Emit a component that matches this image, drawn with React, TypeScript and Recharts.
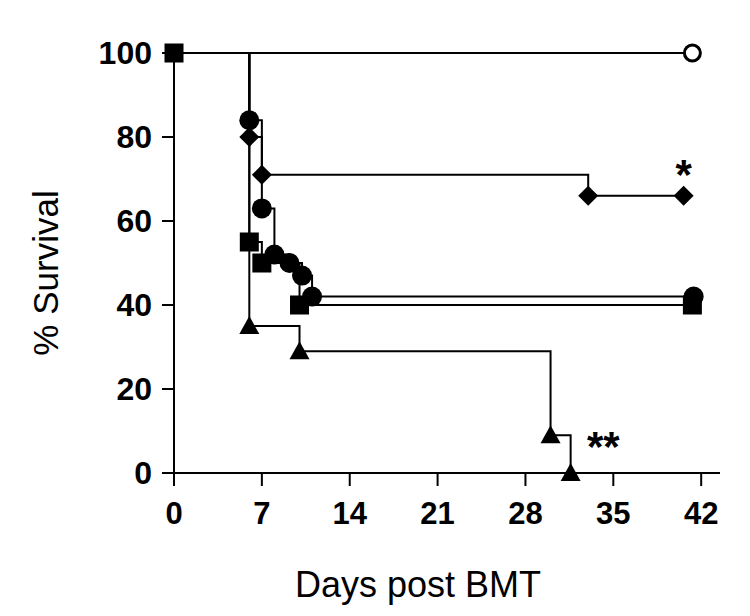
import { LineChart, Line, XAxis, YAxis, ReferenceDot } from 'recharts';

// Kaplan-Meier style survival curves
const xTicks = [0, 7, 14, 21, 28, 35, 42];
const yTicks = [0, 20, 40, 60, 80, 100];

const openDays = [0, 41.3];
const openSurv = [100, 100];
const openMarks = [false, true];

const diamondDays = [0, 6, 7, 33, 40.6];
const diamondSurv = [100, 80, 71, 66, 66];
const diamondMarks = [false, true, true, true, true];

const circleDays = [0, 6, 7, 8, 9.2, 10.2, 11, 41.4];
const circleSurv = [100, 84, 63, 52, 50, 47, 42, 42];
const circleMarks = [false, true, true, true, true, true, true, true];

const squareDays = [0, 6, 7, 10, 41.3];
const squareSurv = [100, 55, 50, 40, 40];
const squareMarks = [true, true, true, true, true];

const triangleDays = [0, 6, 10, 30, 31.6];
const triangleSurv = [100, 35, 29, 9, 0];
const triangleMarks = [false, true, true, true, true];

const annoDays = [40.6, 34.2];
const annoSurv = [73.3, 8.6];
const annoText = ['*', '**'];

const FONT = 'Arial, "Liberation Sans", sans-serif';

const toRows = (days: number[], surv: number[], marks: boolean[]) =>
  days.map((d, i) => ({ day: d, surv: surv[i], mark: marks[i] }));

type Shape = 'open' | 'circle' | 'square' | 'diamond' | 'triangle';

const renderDot = (shape: Shape) => (props: any) => {
  const { cx, cy, payload, index } = props;
  if (!payload || !payload.mark || cx == null || cy == null) return <g key={index} />;
  switch (shape) {
    case 'open':
      return <circle key={index} cx={cx} cy={cy} r={8} fill="#fff" stroke="#000" strokeWidth={3} />;
    case 'circle':
      return <circle key={index} cx={cx} cy={cy} r={10} fill="#000" />;
    case 'square':
      return <rect key={index} x={cx - 9.5} y={cy - 9.5} width={19} height={19} fill="#000" />;
    case 'diamond':
      return (
        <polygon
          key={index}
          points={`${cx},${cy - 10} ${cx + 10},${cy} ${cx},${cy + 10} ${cx - 10},${cy}`}
          fill="#000"
        />
      );
    default:
      return (
        <polygon
          key={index}
          points={`${cx},${cy - 10} ${cx + 10},${cy + 8} ${cx - 10},${cy + 8}`}
          fill="#000"
        />
      );
  }
};

const xTickStyle = { fill: '#000', fontSize: 31, fontWeight: 'bold' as const, fontFamily: FONT };
const yTickStyle = { fill: '#000', fontSize: 32, fontWeight: 'bold' as const, fontFamily: FONT };

const App = () => {
  const series: { rows: any[]; shape: Shape }[] = [
    { rows: toRows(triangleDays, triangleSurv, triangleMarks), shape: 'triangle' },
    { rows: toRows(squareDays, squareSurv, squareMarks), shape: 'square' },
    { rows: toRows(circleDays, circleSurv, circleMarks), shape: 'circle' },
    { rows: toRows(diamondDays, diamondSurv, diamondMarks), shape: 'diamond' },
    { rows: toRows(openDays, openSurv, openMarks), shape: 'open' },
  ];

  return (
    <div style={{ position: 'absolute', left: 0, top: 0, width: 750, height: 616, background: '#fff' }}>
      <LineChart width={750} height={616} margin={{ top: 53, right: 30, left: 0, bottom: 0 }}>
        <XAxis
          type="number"
          dataKey="day"
          domain={[0, 43.5]}
          ticks={xTicks}
          height={143}
          axisLine={{ stroke: '#000', strokeWidth: 2 }}
          tickLine={{ stroke: '#000', strokeWidth: 2 }}
          tickSize={13}
          tickMargin={16}
          tick={xTickStyle}
          allowDuplicatedCategory={false}
        />
        <YAxis
          type="number"
          domain={[0, 100]}
          ticks={yTicks}
          width={174}
          axisLine={{ stroke: '#000', strokeWidth: 2 }}
          tickLine={{ stroke: '#000', strokeWidth: 2 }}
          tickSize={12}
          tickMargin={10}
          tick={yTickStyle}
        />
        {series.map((s) => (
          <Line
            key={s.shape}
            data={s.rows}
            dataKey="surv"
            type="stepAfter"
            stroke="#000"
            strokeWidth={2}
            dot={renderDot(s.shape)}
            activeDot={false}
            isAnimationActive={false}
          />
        ))}
        {annoDays.map((d, i) => (
          <ReferenceDot
            key={i}
            x={d}
            y={annoSurv[i]}
            r={1}
            shape={(p: any) => (
              <text
                x={p.cx}
                y={p.cy + 24}
                textAnchor="middle"
                fontSize={42}
                fontWeight="bold"
                fontFamily={FONT}
                fill="#000"
              >
                {annoText[i]}
              </text>
            )}
          />
        ))}
        <text
          x={58}
          y={273}
          transform="rotate(-90, 58, 273)"
          textAnchor="middle"
          fontSize={35}
          fontFamily={FONT}
          fill="#000"
        >
          % Survival
        </text>
        <text x={418} y={597} textAnchor="middle" fontSize={36} fontFamily={FONT} fill="#000">
          Days post BMT
        </text>
      </LineChart>
    </div>
  );
};

export default App;
